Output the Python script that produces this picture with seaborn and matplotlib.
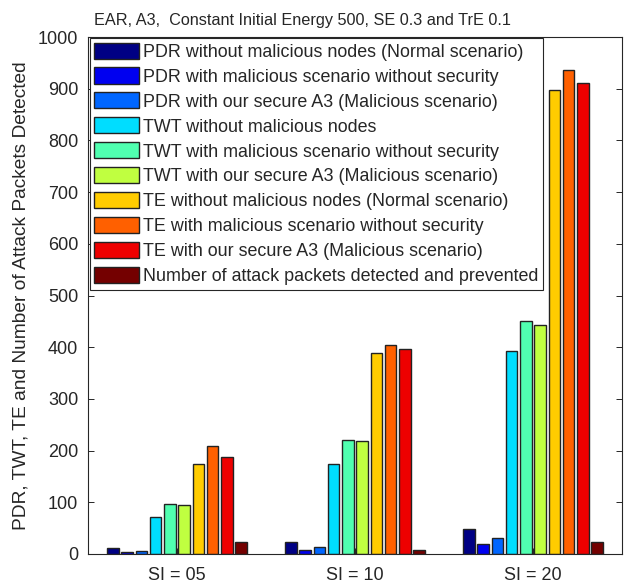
import numpy as np
import pandas as pd
import matplotlib
matplotlib.use("Agg")
import matplotlib.pyplot as plt
import seaborn as sns

groups = ["SI = 05", "SI = 10", "SI = 20"]
series = [
    "PDR without malicious nodes (Normal scenario)",
    "PDR with malicious scenario without security",
    "PDR with our secure A3 (Malicious scenario)",
    "TWT without malicious nodes",
    "TWT with malicious scenario without security",
    "TWT with our secure A3 (Malicious scenario)",
    "TE without malicious nodes (Normal scenario)",
    "TE with malicious scenario without security",
    "TE with our secure A3 (Malicious scenario)",
    "Number of attack packets detected and prevented",
]
pdr_normal = [12, 23, 48]
pdr_malicious = [3, 8, 20]
pdr_secure = [6, 14, 30]
twt_normal = [72, 175, 393]
twt_malicious = [97, 220, 450]
twt_secure = [94, 218, 443]
te_normal = [175, 388, 897]
te_malicious = [208, 404, 937]
te_secure = [187, 397, 911]
attack_detected = [23, 8, 23]

all_values = [pdr_normal, pdr_malicious, pdr_secure, twt_normal, twt_malicious,
              twt_secure, te_normal, te_malicious, te_secure, attack_detected]

rows = []
for s, vals in zip(series, all_values):
    for g, v in zip(groups, vals):
        rows.append({"group": g, "series": s, "value": v})
df = pd.DataFrame(rows)

sns.set_theme(style="white")
plt.rcParams["font.family"] = ["Liberation Sans", "DejaVu Sans"]

colors = ["#000084", "#0000F0", "#0066FF", "#00DDFF", "#50FFB0",
          "#C0FF40", "#FFCC00", "#FF6000", "#EE0000", "#740000"]

fig = plt.figure(figsize=(6.24, 5.84), dpi=100)
ax = fig.add_axes([88 / 624, 30 / 584, (622 - 88) / 624, (554 - 37) / 584])

sns.barplot(data=df, x="group", y="value", hue="series", hue_order=series,
            order=groups, palette=colors, width=0.8, gap=0.2,
            edgecolor="#222222", linewidth=1.0, saturation=1, ax=ax, errorbar=None)

ax.set_xlim(-0.5, 2.5)
ax.set_ylim(0, 1000)
ax.set_yticks(np.arange(0, 1001, 100))
ax.set_xlabel("")
ax.set_ylabel("PDR, TWT, TE and Number of Attack Packets Detected",
              fontsize=13.8, color="#262626", labelpad=6)
fig.text(302 / 624, 1 - 20 / 584,
         "EAR, A3,  Constant Initial Energy 500, SE 0.3 and TrE 0.1",
         fontsize=11.7, color="#262626", ha="center", va="center")
ax.tick_params(axis="both", direction="in", length=4, width=0.7,
               labelsize=13, labelcolor="#262626", top=True, right=True,
               bottom=True, left=True, color="#262626")
ax.tick_params(axis="x", pad=9)
ax.tick_params(axis="y", pad=7)
for sp in ax.spines.values():
    sp.set_color("#262626")
    sp.set_linewidth(0.8)

handles, labels = ax.get_legend_handles_labels()
leg = ax.legend(handles, labels, loc="upper left", bbox_to_anchor=(0.003, 0.998),
                fontsize=12.9, frameon=True, fancybox=False, framealpha=1,
                edgecolor="#262626", handlelength=2.5, handleheight=1.0,
                handletextpad=0.25, borderpad=0.25, labelspacing=0.38,
                borderaxespad=0.0)
leg.get_frame().set_linewidth(0.8)
for t in leg.get_texts():
    t.set_color("#262626")

fig.savefig("out.png", dpi=100)
